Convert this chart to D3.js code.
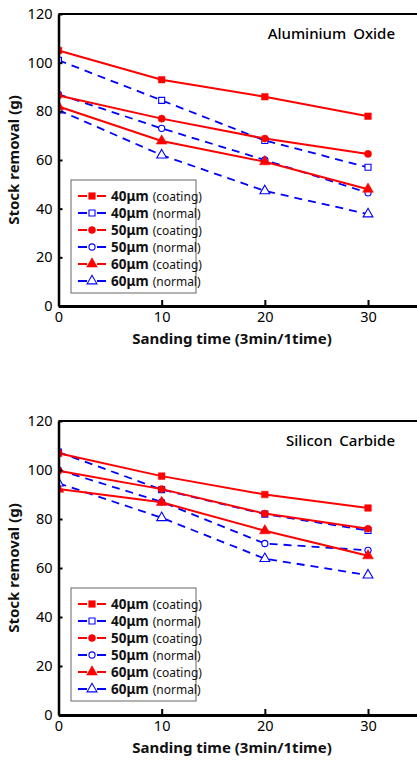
<!DOCTYPE html>
<html><head><meta charset="utf-8">
<script src="https://cdn.jsdelivr.net/npm/d3@7"></script>
<style>
html,body{margin:0;padding:0;background:#fff;}
svg{display:block;font-family:"Noto Sans","Open Sans",sans-serif;}
</style></head>
<body>
<svg id="c" width="417" height="760"></svg>
<script>
// ---- data ----
const sandingTime = [0, 10, 20, 30];
const xTicks = [0, 10, 20, 30];
const yTicks = [0, 20, 40, 60, 80, 100, 120];
const seriesNames = ["40μm", "40μm", "50μm", "50μm", "60μm", "60μm"];
const seriesKinds = ["coating", "normal", "coating", "normal", "coating", "normal"];

// Aluminium Oxide
const alumina40Coating = [105, 93, 86, 78];
const alumina40Normal  = [101, 84.5, 68, 57];
const alumina50Coating = [86.5, 77, 68.8, 62.5];
const alumina50Normal  = [87, 73, 60, 46.5];
const alumina60Coating = [82, 67.8, 59.3, 48];
const alumina60Normal  = [80.5, 62, 47.3, 37.8];

// Silicon Carbide
const sic40Coating = [106.8, 97.5, 90, 84.5];
const sic40Normal  = [107.3, 92, 82, 75.3];
const sic50Coating = [99.7, 92.2, 82.2, 76];
const sic50Normal  = [100, 87, 70, 67.2];
const sic60Coating = [92.2, 86.8, 75.2, 65];
const sic60Normal  = [94.6, 80.5, 63.8, 57.1];

const charts = [
  {title: "Aluminium Oxide", top: 14, bottom: 306,
   series: [alumina40Coating, alumina40Normal, alumina50Coating, alumina50Normal, alumina60Coating, alumina60Normal],
   legendTop: 180},
  {title: "Silicon Carbide", top: 421, bottom: 715,
   series: [sic40Coating, sic40Normal, sic50Coating, sic50Normal, sic60Coating, sic60Normal],
   legendTop: 588}
];

const RED = "#ff0000", BLUE = "#0000ff";
const symbols = [d3.symbolSquare, d3.symbolSquare, d3.symbolCircle, d3.symbolCircle, d3.symbolTriangle, d3.symbolTriangle];
const symSizes = [44, 36, 40, 30, 50, 42];

const svg = d3.select("#c");
const left = 58.5, right = 419.6;

charts.forEach((ch, ci) => {
  const x = d3.scaleLinear().domain([0, 35]).range([left, right]);
  const y = d3.scaleLinear().domain([0, 120]).range([ch.bottom, ch.top]);
  const g = svg.append("g");

  const clipId = "clip" + ci;
  svg.append("clipPath").attr("id", clipId).append("rect")
    .attr("x", left).attr("y", ch.top - 10).attr("width", right - left).attr("height", ch.bottom - ch.top + 10);

  const plot = g.append("g").attr("clip-path", `url(#${clipId})`);
  const line = d3.line().x((d, i) => x(sandingTime[i])).y(d => y(d));

  const order = [1, 3, 5, 0, 2, 4];
  order.forEach(si => {
    const vals = ch.series[si];
    const coat = seriesKinds[si] === "coating";
    plot.append("path").datum(vals)
      .attr("d", line)
      .attr("fill", "none")
      .attr("stroke", coat ? RED : BLUE)
      .attr("stroke-width", coat ? 2 : 1.8)
      .attr("stroke-dasharray", coat ? null : "8,6");
  });
  order.forEach(si => {
    const vals = ch.series[si];
    const coat = seriesKinds[si] === "coating";
    plot.selectAll(null).data(vals).enter().append("path")
      .attr("transform", (d, i) => `translate(${x(sandingTime[i])},${y(d)})`)
      .attr("d", d3.symbol().type(symbols[si]).size(symSizes[si]))
      .attr("fill", coat ? RED : "#fff")
      .attr("stroke", coat ? RED : BLUE)
      .attr("stroke-width", coat ? 0.5 : 1.1);
  });

  g.append("line").attr("x1", left).attr("x2", right).attr("y1", y(120)).attr("y2", y(120))
    .attr("stroke", "#000").attr("stroke-width", 2);

  const ya = g.append("g").attr("transform", `translate(${left},0)`)
    .call(d3.axisLeft(y).tickValues(yTicks).tickSizeInner(-4).tickSizeOuter(0).tickPadding(6));
  ya.select(".domain").attr("stroke-width", 2.5);
  ya.selectAll(".tick line").attr("stroke-width", 2);
  ya.selectAll("text").attr("font-size", 14.5).attr("fill", "#000").attr("font-family", "Noto Sans");

  const xa = g.append("g").attr("transform", `translate(0,${ch.bottom})`)
    .call(d3.axisBottom(x).tickValues(xTicks).tickSizeInner(-6).tickSizeOuter(0).tickPadding(6));
  xa.select(".domain").attr("stroke-width", 3);
  xa.selectAll(".tick line").attr("stroke-width", 2);
  xa.selectAll("text").attr("font-size", 14.5).attr("fill", "#000").attr("font-family", "Noto Sans");

  g.append("text").attr("x", 232).attr("y", ch.bottom + 38).attr("text-anchor", "middle")
    .attr("font-size", 15).attr("font-weight", "bold").attr("fill", "#111")
    .text("Sanding time (3min/1time)");
  g.append("text")
    .attr("transform", `translate(19,${(ch.top + ch.bottom) / 2}) rotate(-90)`)
    .attr("text-anchor", "middle").attr("font-size", 15).attr("font-weight", "bold").attr("fill", "#111")
    .text("Stock removal (g)");

  g.append("text").attr("x", 395).attr("y", ch.top + 25).attr("text-anchor", "end")
    .attr("font-size", 15).attr("font-weight", 500).attr("fill", "#000").attr("word-spacing", 3)
    .text(ch.title);

  const lg = g.append("g");
  lg.append("rect").attr("x", 71).attr("y", ch.legendTop).attr("width", 125).attr("height", 113)
    .attr("fill", "#fff").attr("stroke", "#666").attr("stroke-width", 1);
  seriesNames.forEach((nm, si) => {
    const cy = ch.legendTop + 16 + si * 17;
    const coat = seriesKinds[si] === "coating";
    const col = coat ? RED : BLUE;
    lg.append("line").attr("x1", 78).attr("x2", 87).attr("y1", cy).attr("y2", cy).attr("stroke", col).attr("stroke-width", 2);
    lg.append("line").attr("x1", 97).attr("x2", 106).attr("y1", cy).attr("y2", cy).attr("stroke", col).attr("stroke-width", 2);
    lg.append("path").attr("transform", `translate(92,${cy})`)
      .attr("d", d3.symbol().type(symbols[si]).size(symSizes[si]))
      .attr("fill", coat ? RED : "#fff").attr("stroke", col).attr("stroke-width", coat ? 0.5 : 1.1);
    const t = lg.append("text").attr("x", 111).attr("y", cy + 5).attr("fill", "#111");
    t.append("tspan").attr("font-size", 13.5).attr("font-weight", "bold").text(nm);
    t.append("tspan").attr("dx", 4).attr("font-size", 12).text("(" + seriesKinds[si] + ")");
  });
});
</script>
</body></html>
